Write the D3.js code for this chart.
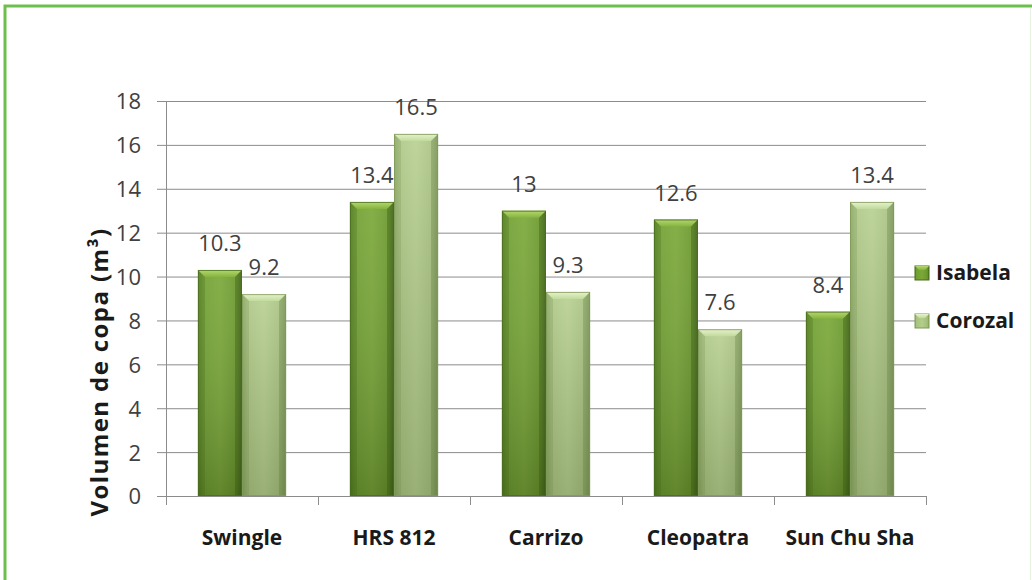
<!DOCTYPE html>
<html><head><meta charset="utf-8">
<script src="https://cdn.jsdelivr.net/npm/d3@7"></script>
<style>body{margin:0;background:#fff}svg{display:block}</style>
</head><body>
<svg id="c" width="1032" height="580"></svg>
<script>
const categories = ["Swingle", "HRS 812", "Carrizo", "Cleopatra", "Sun Chu Sha"];
const seriesNames = ["Isabela", "Corozal"];
const isabela = [10.3, 13.4, 13, 12.6, 8.4];
const corozal = [9.2, 16.5, 9.3, 7.6, 13.4];
const yTicks = [0, 2, 4, 6, 8, 10, 12, 14, 16, 18];
const yTitle = "Volumen de copa (m³)";

const svg = d3.select("#c");
const FONT = "'Open Sans', Lato, sans-serif";

// frame
svg.append("rect").attr("x",5).attr("y",6).attr("width",1040).attr("height",600)
  .attr("fill","none").attr("stroke","#6cbf4c").attr("stroke-width",3);
svg.append("line").attr("x1",1030.5).attr("x2",1030.5).attr("y1",8).attr("y2",580)
  .attr("stroke","#e6f3e0").attr("stroke-width",1);

const x0 = d3.scaleBand().domain(categories).range([166, 926]).paddingInner(0.42).paddingOuter(0.21);
const x1 = d3.scaleBand().domain(seriesNames).range([0, x0.bandwidth()]);
const y = d3.scaleLinear().domain([0, 18]).range([496, 101]);

const defs = svg.append("defs");
function grad(id, stops, horiz) {
  const g = defs.append("linearGradient").attr("id", id)
    .attr("x1",0).attr("y1",0).attr("x2", horiz?1:0).attr("y2", horiz?0:1);
  stops.forEach(s => g.append("stop").attr("offset", s[0]).attr("stop-color", s[1]));
}
grad("gI", [[0,"#5e8a26"],[0.12,"#70a031"],[0.5,"#7aa838"],[0.88,"#6a982c"],[1,"#4f7520"]], true);
grad("gC", [[0,"#93ae69"],[0.12,"#a9c47f"],[0.5,"#b3cd8a"],[0.88,"#a3be7a"],[1,"#8aa660"]], true);
grad("vI", [[0,"rgba(255,255,255,0.08)"],[1,"rgba(0,0,0,0.2)"]], false);
grad("vC", [[0,"rgba(255,255,255,0.15)"],[1,"rgba(0,0,0,0.14)"]], false);
grad("tI", [[0,"#b4d86e"],[1,"#86b340"]], false);
grad("tC", [[0,"#e6f2cf"],[1,"#c2da9c"]], false);

// grid + y axis
const yAxis = d3.axisLeft(y).tickValues(yTicks).tickSize(769).tickPadding(6);
const gy = svg.append("g").attr("transform","translate(926,0)").call(yAxis);
gy.select(".domain").remove();
gy.selectAll(".tick line").attr("stroke","#8c8c8c").attr("stroke-width",1);
gy.selectAll(".tick text").attr("font-family",FONT).attr("font-size",22).attr("fill","#404040")
  .attr("x", 141-926).attr("dy","0.36em");
svg.append("line").attr("x1",166.5).attr("x2",166.5).attr("y1",101).attr("y2",496).attr("stroke","#8c8c8c");

// x axis
const xAxis = d3.axisBottom(x0).tickSize(0).tickPadding(0);
const gx = svg.append("g").attr("transform","translate(0,496)").call(xAxis);
gx.select(".domain").remove();
gx.selectAll(".tick text").attr("font-family",FONT).attr("font-size",21).attr("font-weight","bold")
  .attr("fill","#1a1a1a").attr("y",49).attr("dy",0);
const step = x0.step();
const tickXs = d3.range(categories.length + 1).map(i => 166 + i * step);
svg.append("line").attr("x1",166).attr("x2",926).attr("y1",496.5).attr("y2",496.5).attr("stroke","#8c8c8c");
svg.selectAll(".xt").data(tickXs).enter().append("line")
  .attr("x1",d=>Math.round(d)+0.5).attr("x2",d=>Math.round(d)+0.5).attr("y1",496).attr("y2",505).attr("stroke","#8c8c8c");

// bars
const data = categories.map((c,i)=>({c, vals:[{s:"Isabela",v:isabela[i]},{s:"Corozal",v:corozal[i]}]}));
const groups = svg.selectAll(".grp").data(data).enter().append("g").attr("transform",d=>`translate(${x0(d.c)},0)`);
const bars = groups.selectAll(".bar").data(d=>d.vals).enter().append("g");
bars.each(function(d){
  const g = d3.select(this);
  const bx = x1(d.s), bw = x1.bandwidth(), by = y(d.v), bh = y(0) - y(d.v);
  const k = d.s === "Isabela" ? "I" : "C";
  g.append("rect").attr("x",bx).attr("y",by).attr("width",bw).attr("height",bh).attr("fill",`url(#g${k})`);
  g.append("rect").attr("x",bx).attr("y",by).attr("width",bw).attr("height",bh).attr("fill",`url(#v${k})`);
  const b = 7;
  g.append("path").attr("d",`M${bx},${by}L${bx+bw},${by}L${bx+bw-b},${by+b}L${bx+b},${by+b}Z`).attr("fill",`url(#t${k})`);
  g.append("path").attr("d",`M${bx},${by}L${bx+b},${by+b}L${bx+b},${by+bh}L${bx},${by+bh}Z`).attr("fill", k==="I"?"rgba(60,90,20,0.25)":"rgba(90,120,50,0.18)");
  g.append("path").attr("d",`M${bx+bw},${by}L${bx+bw-b},${by+b}L${bx+bw-b},${by+bh}L${bx+bw},${by+bh}Z`).attr("fill", k==="I"?"rgba(40,70,10,0.3)":"rgba(70,100,40,0.25)");
  g.append("rect").attr("x",bx+0.5).attr("y",by+0.5).attr("width",bw-1).attr("height",bh-1)
    .attr("fill","none").attr("stroke", k==="I"?"#4a6d1d":"#7f9a58").attr("stroke-width",1).attr("opacity",0.8);
  g.append("text").attr("x",bx+bw/2).attr("y",by-19).attr("text-anchor","middle")
    .attr("font-family",FONT).attr("font-size",22).attr("fill","#404040").text(d3.format("")(d.v));
});

// y title
svg.append("text").attr("transform","translate(108,372) rotate(-90)").attr("text-anchor","middle")
  .attr("font-family",FONT).attr("font-size",24).attr("font-weight","bold").attr("letter-spacing",1.4)
  .attr("fill","#1a1a1a").text(yTitle);

// legend
const leg = svg.selectAll(".leg").data(seriesNames).enter().append("g")
  .attr("transform",(d,i)=>`translate(915,${266 + i*48})`);
leg.append("rect").attr("width",14).attr("height",14).attr("fill",(d,i)=>i===0?"url(#gI)":"url(#gC)")
  .attr("stroke",(d,i)=>i===0?"#4a6d1d":"#7f9a58");
leg.append("path").attr("d","M0,0L14,0L10,4L4,4Z").attr("fill",(d,i)=>i===0?"url(#tI)":"url(#tC)");
leg.append("text").attr("x",21).attr("y",14).attr("font-family",FONT).attr("font-size",21)
  .attr("font-weight","bold").attr("fill","#1a1a1a").text(d=>d);
</script>
</body></html>
